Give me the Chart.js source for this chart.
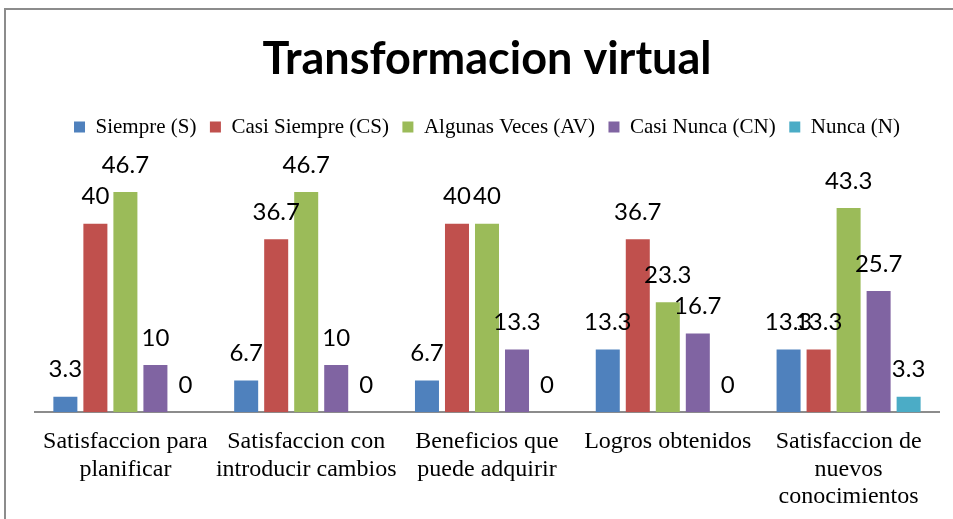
<!DOCTYPE html>
<html>
<head>
<meta charset="utf-8">
<script src="https://cdn.jsdelivr.net/npm/chart.js@4/dist/chart.umd.min.js"></script>
<style>
  body { margin: 0; background: #fff; }
  #wrap { position: relative; width: 953px; height: 519px; overflow: hidden; }
  #frame { position: absolute; left: 4px; top: 8px; width: 1000px; height: 600px;
           border-left: 2px solid #8c8c8c; border-top: 2px solid #8c8c8c; }
  #wrap canvas { position: absolute; left: 0; top: 0; }
</style>
</head>
<body>
<div id="wrap">
  <div id="frame"></div>
  <canvas id="chart" width="953" height="519"></canvas>
</div>
<script>
// datos del grafico
const categorias = [
  ['Satisfaccion para', 'planificar'],
  ['Satisfaccion con', 'introducir cambios'],
  ['Beneficios que', 'puede adquirir'],
  'Logros obtenidos',
  ['Satisfaccion de', 'nuevos', 'conocimientos']
];
const siempre      = [3.3, 6.7, 6.7, 13.3, 13.3];
const casiSiempre  = [40, 36.7, 40, 36.7, 13.3];
const algunasVeces = [46.7, 46.7, 40, 23.3, 43.3];
const casiNunca    = [10, 10, 13.3, 16.7, 25.7];
const nunca        = [0, 0, 0, 0, 3.3];

const series = ['Siempre (S)', 'Casi Siempre (CS)', 'Algunas Veces (AV)', 'Casi Nunca (CN)', 'Nunca (N)'];
const colores = ['#4F81BD', '#C0504D', '#9BBB59', '#8064A2', '#4BACC6'];
const valores = [siempre, casiSiempre, algunasVeces, casiNunca, nunca];

// etiquetas de valor encima de cada barra
const valueLabels = {
  id: 'valueLabels',
  afterDatasetsDraw(chart) {
    const ctx = chart.ctx;
    ctx.save();
    ctx.font = '24px Lato';
    ctx.fillStyle = '#000';
    ctx.textAlign = 'center';
    ctx.textBaseline = 'middle';
    chart.data.datasets.forEach((ds, i) => {
      chart.getDatasetMeta(i).data.forEach((bar, j) => {
        ctx.fillText(String(ds.data[j]), bar.x, bar.y - 27);
      });
    });
    ctx.restore();
  }
};

// espacio extra debajo de la leyenda
const legendGap = {
  id: 'legendGap',
  beforeInit(chart) {
    const fit = chart.legend.fit;
    chart.legend.fit = function () { fit.call(this); this.height += 29; };
  }
};

new Chart(document.getElementById('chart'), {
  type: 'bar',
  data: {
    labels: categorias,
    datasets: series.map((s, i) => ({
      label: s,
      data: valores[i],
      backgroundColor: colores[i],
      categoryPercentage: 0.83,
      barPercentage: 0.8
    }))
  },
  options: {
    responsive: false,
    animation: false,
    layout: { padding: { left: 35, right: 14, top: 0, bottom: 0 } },
    plugins: {
      title: {
        display: true,
        text: 'Transformacion virtual',
        color: '#000',
        font: { family: 'Lato', size: 45, weight: 'bold' },
        padding: { top: 32.5, bottom: 16.5 }
      },
      legend: {
        labels: {
          boxWidth: 11, boxHeight: 11, padding: 13.5,
          color: '#000',
          font: { family: 'Liberation Serif', size: 21 }
        }
      },
      tooltip: { enabled: false }
    },
    scales: {
      x: {
        grid: { display: false },
        border: { color: '#8c8c8c', width: 2 },
        ticks: {
          color: '#000', maxRotation: 0, autoSkip: false, padding: 8,
          font: { family: 'Liberation Serif', size: 24, lineHeight: 1.15 }
        }
      },
      y: { display: false, min: 0, max: 50 }
    }
  },
  plugins: [valueLabels, legendGap]
});
</script>
</body>
</html>
